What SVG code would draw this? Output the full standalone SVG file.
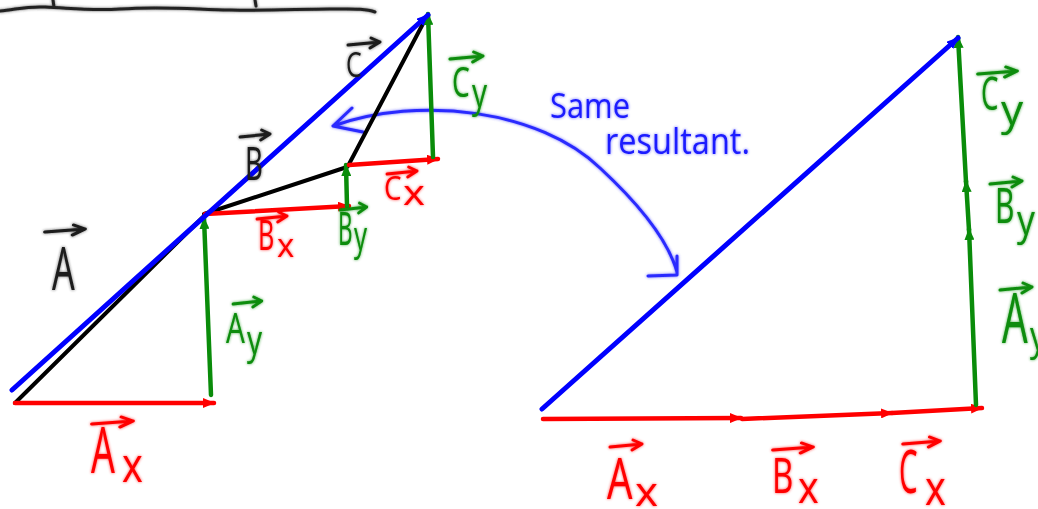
<svg xmlns="http://www.w3.org/2000/svg" xmlns:xlink="http://www.w3.org/1999/xlink" width="1038" height="509" viewBox="0 0 1038 509">
<style>
.ln{fill:none;stroke-linecap:round;stroke-linejoin:round}
.bk{stroke:#000;stroke-width:4}
.rd{stroke:#ff0000;stroke-width:4.5}
.gn{stroke:#0a8c0a;stroke-width:4.5}
.bl{stroke:#0000ff;stroke-width:5}
.hand{fill:none;stroke-linecap:round;stroke-linejoin:round;stroke-width:3}
.lbl{font-family:"Open Sans","Liberation Sans",sans-serif;font-weight:400}
.tk{fill:#1a1a1a}
.tr{fill:#ff0000}
.tg{fill:#0a8c0a}
.tb{fill:#1a1aff}
.vk{stroke:#1a1a1a}
.vr{stroke:#ff0000}
.vg{stroke:#0a8c0a}
</style>
<defs>
<filter id="glow" x="-30%" y="-30%" width="160%" height="160%">
<feGaussianBlur in="SourceGraphic" stdDeviation="1.4" result="b"/>
<feComponentTransfer in="b" result="b2"><feFuncA type="linear" slope="0.7"/></feComponentTransfer>
<feMerge><feMergeNode in="b2"/><feMergeNode in="SourceGraphic"/></feMerge>
</filter>
<path id="vec" d="M0,7 L32,4 M23,0 L32,4 L22,10"/>
<marker id="mr" viewBox="0 0 12 10" refX="11" refY="5" markerWidth="12" markerHeight="10" markerUnits="userSpaceOnUse" orient="auto"><path d="M0,0 L12,5 L0,10 z" fill="#ff0000"/></marker>
<marker id="mg" viewBox="0 0 12 10" refX="11" refY="5" markerWidth="12" markerHeight="10" markerUnits="userSpaceOnUse" orient="auto"><path d="M0,0 L12,5 L0,10 z" fill="#0a8c0a"/></marker>
<marker id="mb" viewBox="0 0 12 10" refX="11" refY="5" markerWidth="12" markerHeight="10" markerUnits="userSpaceOnUse" orient="auto"><path d="M0,0 L12,5 L0,10 z" fill="#0000ff"/></marker>
</defs>
<rect width="1038" height="509" fill="#fff"/>

<g id="top-rule" filter="url(#glow)">
<path class="hand" stroke="#222" d="M0,11 C15,10 25,6 45,7 C70,8 90,11 120,9 C160,6 190,9 230,10 C270,11 300,9 330,9 C350,9 365,8 375,12"/>
<path class="hand" stroke="#222" d="M53,0 L54,7 M255,0 L256,6"/>
</g>

<g id="connectors">
<path id="same-arrow" class="hand" stroke="#2a2aff" filter="url(#glow)" d="M333,126 C420,95 540,110 600,168 C640,205 668,240 677,272 M352,108 L333,126 L363,132 M677,256 L677,275 L648,276"/>
<path class="ln bk" d="M15,403 L203,217"/>
<path class="ln bk" d="M204,214 L347,167"/>
<path class="ln bk" d="M348,166 L426,18"/>
<path class="ln rd" marker-end="url(#mr)" d="M15,403 L214,403"/>
<path class="ln gn" marker-end="url(#mg)" d="M211,395 L204,218"/>
<path class="ln rd" marker-end="url(#mr)" d="M205,214 L349,206"/>
<path class="ln gn" marker-end="url(#mg)" d="M347,206 L346,165"/>
<path class="ln rd" marker-end="url(#mr)" d="M349,165 L438,159"/>
<path class="ln gn" marker-end="url(#mg)" d="M433,157 L428,14"/>
<path class="ln bl" marker-end="url(#mb)" d="M12,390 L428,15"/>
<path class="ln rd" marker-end="url(#mr)" d="M543,419 L741,418"/>
<path class="ln rd" marker-end="url(#mr)" d="M742,419 L892,413"/>
<path class="ln rd" marker-end="url(#mr)" d="M892,413 L982,408"/>
<path class="ln gn" marker-end="url(#mg)" d="M976,405 L969,229"/>
<path class="ln gn" marker-end="url(#mg)" d="M969,230 L966,181"/>
<path class="ln gn" marker-end="url(#mg)" d="M966,182 L958,37"/>
<path class="ln bl" marker-end="url(#mb)" d="M542,409 L958,38"/>
</g>

<g id="label-A" filter="url(#glow)">
<use xlink:href="#vec" class="hand vk" transform="translate(45,225) scale(1.25,1)"/>
<text class="lbl tk" font-size="60" transform="translate(52,290) scale(0.6,1)">A</text>
</g>
<g id="label-B" filter="url(#glow)">
<use xlink:href="#vec" class="hand vk" transform="translate(240,130) scale(0.94,1)"/>
<text class="lbl tk" font-size="46" transform="translate(245,180) scale(0.6,1)">B</text>
</g>
<g id="label-C" filter="url(#glow)">
<use xlink:href="#vec" class="hand vk" transform="translate(348,38) scale(1,1)"/>
<text class="lbl tk" font-size="34" transform="translate(346,77) scale(0.73,1)">C</text>
</g>
<g id="label-Ax-left" filter="url(#glow)">
<use xlink:href="#vec" class="hand vr" transform="translate(92,417) scale(1.28,1)"/>
<text class="lbl tr" font-size="64" transform="translate(91,473) scale(0.59,1)">A</text>
<text class="lbl tr" font-size="48" transform="translate(122,482) scale(0.83,1)">x</text>
</g>
<g id="label-Ay-left" filter="url(#glow)">
<use xlink:href="#vec" class="hand vg" transform="translate(233,297) scale(0.9,1)"/>
<text class="lbl tg" font-size="42" transform="translate(226,343) scale(0.71,1)">A</text>
<text class="lbl tg" font-size="40" transform="translate(247,354) scale(0.75,1)">y</text>
</g>
<g id="label-Bx-left" filter="url(#glow)">
<use xlink:href="#vec" class="hand vr" transform="translate(257,212) scale(0.94,1)"/>
<text class="lbl tr" font-size="42" transform="translate(258,250) scale(0.6,1)">B</text>
<text class="lbl tr" font-size="33" transform="translate(277,257)">x</text>
</g>
<g id="label-By-left" filter="url(#glow)">
<use xlink:href="#vec" class="hand vg" transform="translate(340,203) scale(0.84,1)"/>
<text class="lbl tg" font-size="45" transform="translate(338,245) scale(0.5,1)">B</text>
<text class="lbl tg" font-size="40" transform="translate(354,250) scale(0.65,1)">y</text>
</g>
<g id="label-Cx-left" filter="url(#glow)">
<use xlink:href="#vec" class="hand vr" transform="translate(387,167) scale(0.94,1)"/>
<text class="lbl tr" font-size="32" transform="translate(384,200) scale(0.87,1)">C</text>
<text class="lbl tr" font-size="35" transform="translate(403,205) scale(1.2,1)">x</text>
</g>
<g id="label-Cy-left" filter="url(#glow)">
<use xlink:href="#vec" class="hand vg" transform="translate(450,52) scale(1.03,1)"/>
<text class="lbl tg" font-size="42" transform="translate(452,97) scale(0.67,1)">C</text>
<text class="lbl tg" font-size="40" transform="translate(472,107) scale(0.75,1)">y</text>
</g>
<g id="label-same-resultant" filter="url(#glow)">
<text class="lbl tb" font-size="34" x="550" y="118" textLength="80" lengthAdjust="spacingAndGlyphs">Same</text>
<text class="lbl tb" font-size="36" x="605" y="154" textLength="145" lengthAdjust="spacingAndGlyphs">resultant.</text>
</g>
<g id="label-Cy-right" filter="url(#glow)">
<use xlink:href="#vec" class="hand vg" transform="translate(978,67) scale(1.22,1)"/>
<text class="lbl tg" font-size="46" transform="translate(981,110) scale(0.6,1)">C</text>
<text class="lbl tg" font-size="42" transform="translate(1001,125) scale(1.05,1)">y</text>
</g>
<g id="label-By-right" filter="url(#glow)">
<use xlink:href="#vec" class="hand vg" transform="translate(990,177) scale(1,1)"/>
<text class="lbl tg" font-size="50" transform="translate(995,223) scale(0.6,1)">B</text>
<text class="lbl tg" font-size="42" transform="translate(1017,235) scale(0.85,1)">y</text>
</g>
<g id="label-Ay-right" filter="url(#glow)">
<use xlink:href="#vec" class="hand vg" transform="translate(1000,283) scale(1,1)"/>
<text class="lbl tg" font-size="70" transform="translate(1002,343) scale(0.58,1)">A</text>
<text class="lbl tg" font-size="40" transform="translate(1030,350) scale(0.8,1)">y</text>
</g>
<g id="label-Ax-right" filter="url(#glow)">
<use xlink:href="#vec" class="hand vr" transform="translate(610,440) scale(1,1)"/>
<text class="lbl tr" font-size="56" transform="translate(607,499) scale(0.72,1)">A</text>
<text class="lbl tr" font-size="40" transform="translate(635,506) scale(1.1,1)">x</text>
</g>
<g id="label-Bx-right" filter="url(#glow)">
<use xlink:href="#vec" class="hand vr" transform="translate(773,443) scale(1.25,1)"/>
<text class="lbl tr" font-size="50" transform="translate(772,493) scale(0.66,1)">B</text>
<text class="lbl tr" font-size="44" transform="translate(798,503) scale(0.9,1)">x</text>
</g>
<g id="label-Cx-right" filter="url(#glow)">
<use xlink:href="#vec" class="hand vr" transform="translate(903,437) scale(1.16,1)"/>
<text class="lbl tr" font-size="60" transform="translate(899,493) scale(0.49,1)">C</text>
<text class="lbl tr" font-size="48" transform="translate(925,505) scale(0.83,1)">x</text>
</g>
</svg>
